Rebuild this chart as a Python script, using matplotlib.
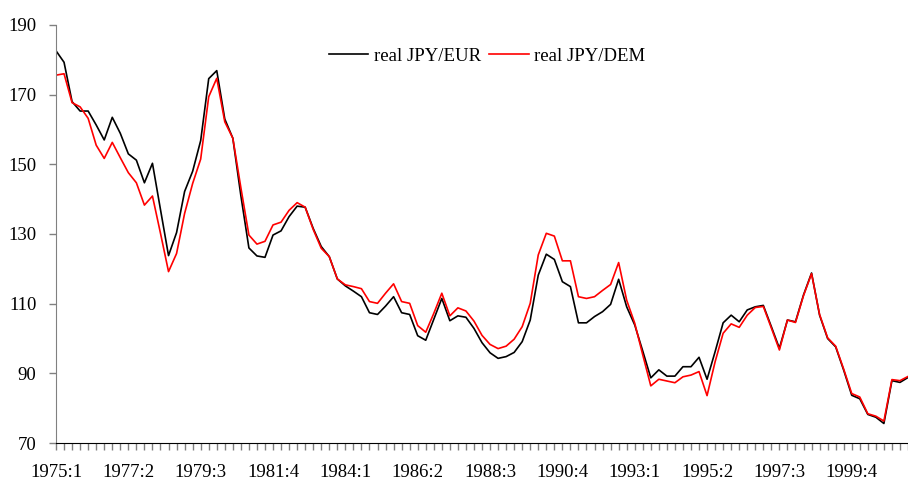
import numpy as np
import matplotlib.pyplot as plt

plt.rcParams['font.family'] = ['Liberation Serif', 'DejaVu Serif']
plt.rcParams['font.size'] = 13.5

# Kvartal fra 1975:1
kvartal = [f'{1975 + k // 4}:{k % 4 + 1}' for k in range(107)]

# real JPY/EUR
jpy_eur = [182.6, 179.3, 168.0, 165.3, 165.3, 161.3, 157.0, 163.5, 158.9, 153.0,
           151.2, 144.7, 150.3, 137.0, 123.8, 130.4, 142.2, 148.0, 156.8, 174.6,
           176.9, 163.0, 157.5, 141.0, 126.0, 123.7, 123.3, 129.7, 130.9, 135.0,
           138.0, 137.7, 131.6, 126.4, 123.5, 117.1, 115.1, 113.6, 112.0, 107.4,
           106.9, 109.3, 112.0, 107.4, 106.9, 100.8, 99.5, 105.5, 111.5, 105.1,
           106.5, 106.1, 102.9, 98.8, 95.9, 94.3, 94.8, 96.0, 99.1, 105.3,
           118.2, 124.2, 122.7, 116.3, 114.9, 104.5, 104.5, 106.3, 107.7, 109.8,
           117.0, 109.1, 103.9, 96.4, 88.7, 91.0, 89.2, 89.2, 91.9, 91.9,
           94.6, 88.3, 96.2, 104.5, 106.7, 104.8, 108.2, 109.1, 109.5, 103.4,
           97.2, 105.3, 104.8, 112.5, 118.8, 106.7, 100.0, 97.6, 90.9, 83.7,
           82.7, 78.2, 77.4, 75.6, 87.9, 87.4, 88.8]

# real JPY/DEM
jpy_dem = [175.6, 176.0, 167.7, 166.5, 163.2, 155.5, 151.7, 156.3, 151.9, 147.6,
           144.7, 138.3, 140.9, 130.2, 119.2, 124.4, 135.9, 144.5, 151.5, 169.4,
           174.7, 162.2, 157.5, 143.3, 129.7, 127.1, 127.9, 132.6, 133.4, 136.8,
           139.0, 137.7, 131.3, 125.9, 123.5, 117.1, 115.4, 114.9, 114.3, 110.6,
           110.1, 113.0, 115.7, 110.6, 110.1, 103.7, 101.8, 107.2, 113.0, 106.5,
           108.8, 107.9, 105.0, 100.9, 98.3, 97.1, 97.8, 99.8, 103.4, 110.1,
           124.0, 130.2, 129.4, 122.3, 122.3, 112.0, 111.5, 112.0, 113.8, 115.5,
           121.8, 111.0, 104.4, 95.3, 86.4, 88.3, 87.8, 87.3, 89.0, 89.5,
           90.5, 83.6, 93.3, 101.5, 104.2, 103.2, 106.7, 108.9, 109.2, 103.0,
           96.7, 105.3, 104.6, 112.3, 118.6, 106.9, 100.2, 97.8, 91.2, 84.2,
           83.2, 78.4, 77.7, 76.3, 88.2, 87.9, 89.1]

x = np.arange(len(kvartal))

fig = plt.figure(figsize=(9.08, 4.8), dpi=100)
ax = fig.add_axes([56/908, 37/480, 852/908, 418/480])

ax.plot(x, jpy_eur, color='black', linewidth=1.2, label='real JPY/EUR')
ax.plot(x, jpy_dem, color='#ff0000', linewidth=1.2, label='real JPY/DEM')

ax.set_xlim(0, 105.6)
ax.set_ylim(70, 190)
ax.set_yticks(np.arange(70, 191, 20))

# Merke ved kvart kvartal, tekst ved kvart niande
ax.set_xticks(x)
ax.set_xticklabels([k if i % 9 == 0 else '' for i, k in enumerate(kvartal)])

ax.tick_params(axis='x', length=5, width=1, color='#808080', pad=10)
ax.tick_params(axis='y', length=5, width=1, color='#808080', pad=9)

for s in ['top', 'right']:
    ax.spines[s].set_visible(False)
ax.spines['left'].set_color('#808080')
ax.spines['bottom'].set_color('black')

ax.legend(loc='center', bbox_to_anchor=(0.506, 0.925), ncol=2, frameon=False,
          handlelength=2.1, handletextpad=0.3, columnspacing=0.45)

fig.savefig('out.png', dpi=100)
